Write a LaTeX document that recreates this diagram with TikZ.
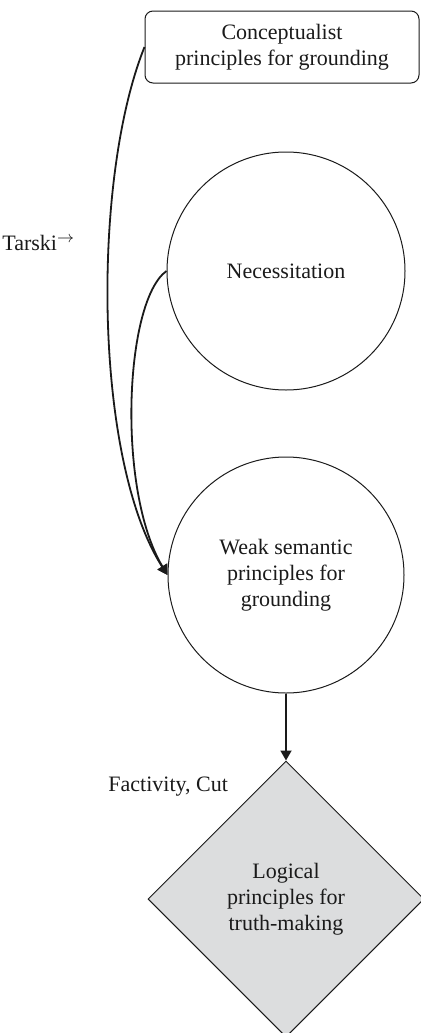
\documentclass[tikz,border=0pt]{standalone}
\usepackage{fontspec}
\setmainfont{Liberation Serif}
\usepackage{amsmath}
\usepackage{tikz}
\usetikzlibrary{arrows.meta,shapes.geometric}
\definecolor{lineDark}{HTML}{1A1A1A}
\definecolor{fillGrey}{HTML}{DCDDDE}

\begin{document}
\begin{tikzpicture}[x=0.5pt, y=-0.5pt, every node/.style={font=\fontsize{11}{12.9}\selectfont, align=center, text=lineDark}]
\useasboundingbox (0,0) rectangle (420,1033);
\node[draw=lineDark,rounded corners=4pt,minimum width=137pt,minimum height=36pt,line width=0.5pt] (top) at (282,47) {Conceptualist\\principles for grounding};
\node[draw=lineDark,circle,minimum size=119pt,inner sep=0pt,line width=0.5pt] (nec) at (286,271) {Necessitation};
\node[draw=lineDark,circle,minimum size=118pt,inner sep=0pt,line width=0.5pt] (weak) at (286,575) {Weak semantic\\principles for\\grounding};
\node[draw=lineDark,fill=fillGrey,diamond,minimum size=138pt,inner sep=0pt,line width=0.5pt] (logic) at (286,899) {Logical\\principles for\\truth-making};
\draw[-{Triangle[length=5pt,width=5.5pt]},line width=0.9pt,lineDark] (top.west) .. controls +(-53,132) and +(-74,-115) .. (weak.west);
\draw[-{Triangle[length=5pt,width=5.5pt]},line width=0.9pt,lineDark] (nec.180) .. controls +(-42,30) and +(-51,-85) .. (weak.west);
\draw[-{Triangle[length=5pt,width=5.5pt]},line width=0.9pt,lineDark] (weak.south)--(logic.north);
\node[anchor=west,inner sep=0pt] (tarski) at (2,243) {Tarski$^{\rightarrow}$};
\node[anchor=west,inner sep=0pt] (fact) at (108,787) {Factivity, Cut};
\end{tikzpicture}
\end{document}
